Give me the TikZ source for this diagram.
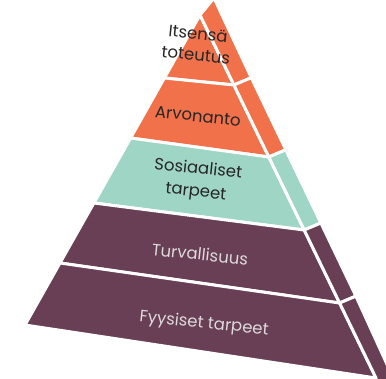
\documentclass[tikz,border=0pt]{standalone}
\usepackage{fontspec}
\setmainfont{Poppins}
\definecolor{pyrorange}{HTML}{F0714A}
\definecolor{pyrteal}{HTML}{9FD5C5}
\definecolor{pyrmauve}{HTML}{683F55}
\definecolor{darktext}{HTML}{262626}
\definecolor{lighttext}{HTML}{DEDADC}
\begin{document}
\begin{tikzpicture}[x=1pt,y=-1pt,
  face/.style={draw=white, line width=3pt, line join=round},
  lbl/.style={align=center, inner sep=0pt, rotate=-6},
  lblfont/.style={font=\fontsize{16.5}{18}\selectfont}]
\useasboundingbox (0,0) rectangle (386,378);
\fill[white] (0,0) rectangle (386,378);
\clip (0,0) rectangle (386,378);
% key points
\coordinate (F) at (200,15);
\coordinate (T) at (214,-2);
\coordinate (L1) at (164.4,78);   \coordinate (R1) at (233.9,85);   \coordinate (O1) at (251.3,77.7);
\coordinate (L2) at (130.6,138);  \coordinate (R2) at (268.8,157);  \coordinate (O2) at (285.8,149.8);
\coordinate (L3) at (93.9,203);   \coordinate (R3) at (304.2,230);  \coordinate (O3) at (320.9,223);
\coordinate (L4) at (60,263);     \coordinate (R4) at (339.6,303);  \coordinate (O4) at (355.9,296.1);
\coordinate (L5) at (25,325);     \coordinate (R5) at (376,378);
\coordinate (R6) at (377,384);    \coordinate (O5) at (396,384);
% front faces
\filldraw[face, fill=pyrorange] (F) -- (R1) -- (L1) -- cycle;
\filldraw[face, fill=pyrorange] (L1) -- (R1) -- (R2) -- (L2) -- cycle;
\filldraw[face, fill=pyrteal]   (L2) -- (R2) -- (R3) -- (L3) -- cycle;
\filldraw[face, fill=pyrmauve]  (L3) -- (R3) -- (R4) -- (L4) -- cycle;
\filldraw[face, fill=pyrmauve]  (L4) -- (R4) -- (R5) -- (L5) -- cycle;
% right faces
\filldraw[face, fill=pyrorange] (F) -- (T) -- (O1) -- (R1) -- cycle;
\filldraw[face, fill=pyrorange] (R1) -- (O1) -- (O2) -- (R2) -- cycle;
\filldraw[face, fill=pyrteal]   (R2) -- (O2) -- (O3) -- (R3) -- cycle;
\filldraw[face, fill=pyrmauve]  (R3) -- (O3) -- (O4) -- (R4) -- cycle;
\filldraw[face, fill=pyrmauve]  (R4) -- (O4) -- (O5) -- (R6) -- (R5) -- cycle;
% labels
\node[lbl, text=darktext, font=\fontsize{16.5}{21.5}\selectfont] (t1) at (197,44) {Itsensä\\toteutus};
\node[lbl, lblfont, text=darktext] (t2) at (198,116) {Arvonanto};
\node[lbl, text=darktext, font=\fontsize{16.5}{23}\selectfont] (t3) at (197,181) {Sosiaaliset\\tarpeet};
\node[lbl, lblfont, text=lighttext] (t4) at (200,254) {Turvallisuus};
\node[lbl, lblfont, text=lighttext] (t5) at (204,324) {Fyysiset tarpeet};
\end{tikzpicture}
\end{document}
